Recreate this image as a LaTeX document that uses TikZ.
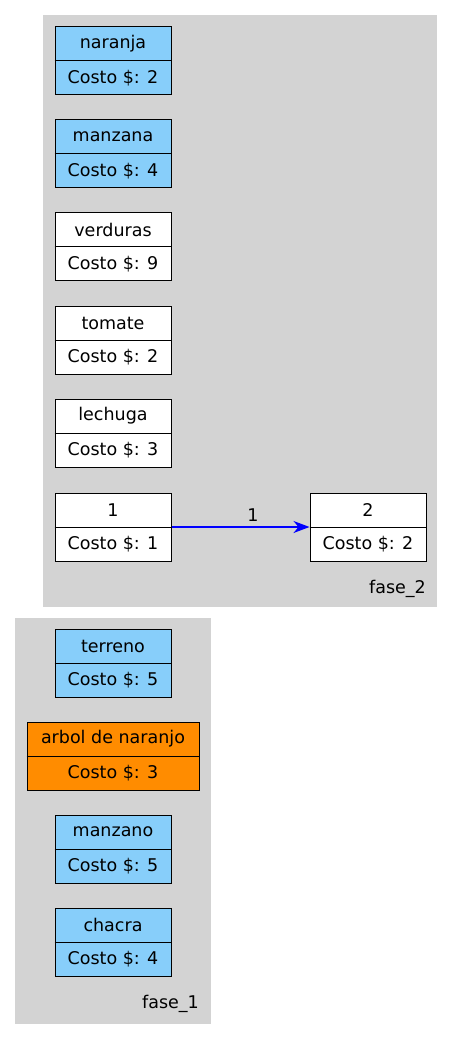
\documentclass[tikz,border=0pt]{standalone}
\usepackage{fontspec}
\setmainfont{DejaVu Sans}
\usetikzlibrary{arrows.meta}
\definecolor{clustergray}{HTML}{D3D3D3}
\definecolor{skyblue}{HTML}{87CEFA}
\definecolor{dorange}{HTML}{FF8C00}
\definecolor{edgeblue}{HTML}{0000FF}
\tikzset{
  cluster/.style={fill=clustergray, draw=none},
  rec/.style={draw=black, line width=1pt, minimum height=68pt, inner sep=0pt, anchor=center},
  lbl/.style={font=\fontsize{17.5}{20}\selectfont, text=black, inner sep=0pt, anchor=center},
  edgeline/.style={draw=edgeblue, line width=1.3pt, -{Stealth[length=16pt,width=12pt,inset=5pt,fill=edgeblue]}},
}
\newcommand\recnode[7]{%
  \node[rec, fill=#5, minimum width=#4pt] (#1) at (#2,#3+34) {};
  \draw[line width=1pt] (#1.west) -- (#1.east);
  \node[lbl] (#1t) at ([yshift=17pt]#1.center) {#6};
  \node[lbl] (#1b) at ([yshift=-17pt]#1.center) {#7};
}
\begin{document}
\begin{tikzpicture}[x=1pt,y=-1pt]
\useasboundingbox (0,0) rectangle (453,1040);
% clusters
\fill[cluster] (43,15) rectangle (437,607);
\fill[cluster] (15,618) rectangle (211,1024);
% fase_2 nodes
\recnode{naranja}{113}{27}{116}{skyblue}{naranja}{Costo \$: 2}
\recnode{manzana}{113}{120}{116}{skyblue}{manzana}{Costo \$: 4}
\recnode{verduras}{113}{213}{116}{white}{verduras}{Costo \$: 9}
\recnode{tomate}{113}{306}{116}{white}{tomate}{Costo \$: 2}
\recnode{lechuga}{113}{399}{116}{white}{lechuga}{Costo \$: 3}
\recnode{n1}{113}{493}{116}{white}{1}{Costo \$: 1}
\recnode{n2}{368}{493}{116}{white}{2}{Costo \$: 2}
\path[edgeline] (n1.east) -- (n2.west);
\path (n1.east) -- node[lbl, pos=0.59, above=5pt] (e1) {1} (n2.west);
\node[lbl, anchor=east] (f2) at (426,589) {fase\_2};
% fase_1 nodes
\recnode{terreno}{113}{629}{116}{skyblue}{terreno}{Costo \$: 5}
\recnode{arbol}{113}{722}{172}{dorange}{arbol de naranjo}{Costo \$: 3}
\recnode{manzano}{113}{815}{116}{skyblue}{manzano}{Costo \$: 5}
\recnode{chacra}{113}{908}{116}{skyblue}{chacra}{Costo \$: 4}
\node[lbl, anchor=east] (f1) at (199,1004) {fase\_1};
\end{tikzpicture}
\end{document}
